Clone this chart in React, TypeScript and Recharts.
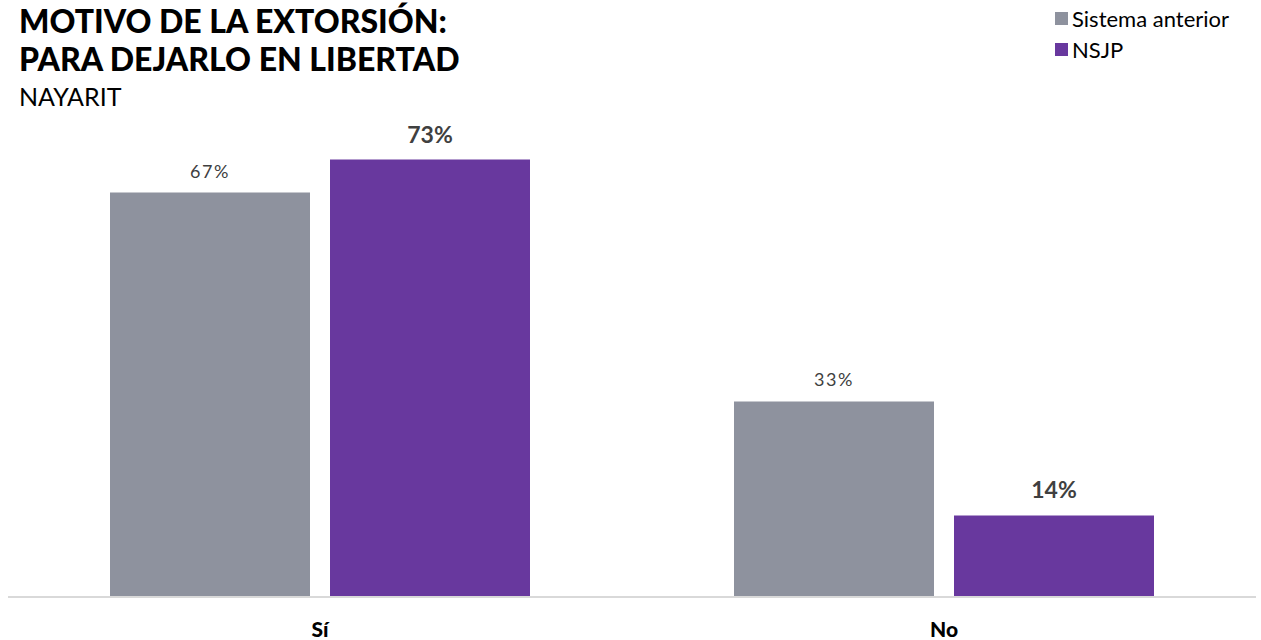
import { BarChart, Bar, XAxis, YAxis, LabelList } from 'recharts';

const categories = ['Sí', 'No'];
const sistemaAnterior = [67.4, 32.6];
const nsjp = [72.9, 13.6];

const GRAY = '#8E929E';
const PURPLE = '#68389E';
const FONT = 'Lato, "Open Sans", sans-serif';

const data = categories.map((c, i) => ({
  name: c,
  anterior: sistemaAnterior[i],
  nsjp: nsjp[i],
}));

const pct = (v: any) => `${Math.round(Number(v))}%`;

export default function App() {
  return (
    <div style={{ position: 'absolute', left: 0, top: 0, width: 1261, height: 640, background: '#fff', fontFamily: FONT }}>
      <div style={{ position: 'absolute', left: 19, top: 2, color: '#000', lineHeight: '38px' }}>
        <div style={{ fontSize: 32, fontWeight: 900 }}>MOTIVO DE LA EXTORSIÓN:</div>
        <div style={{ fontSize: 32, fontWeight: 900 }}>PARA DEJARLO EN LIBERTAD</div>
        <div style={{ fontSize: 25, lineHeight: '30px', marginTop: 3 }}>NAYARIT</div>
      </div>
      <div style={{ position: 'absolute', left: 1055, top: 3, fontSize: 22, color: '#000', lineHeight: '31px' }}>
        {[['Sistema anterior', GRAY], ['NSJP', PURPLE]].map(([label, color]) => (
          <div key={label} style={{ display: 'flex', alignItems: 'center' }}>
            <span style={{ display: 'inline-block', width: 13, height: 13, background: color, marginRight: 4 }} />
            {label}
          </div>
        ))}
      </div>
      <div style={{ position: 'absolute', left: 0, top: 0 }}>
        <BarChart
          width={1261}
          height={640}
          data={data}
          margin={{ top: 117, right: 5, bottom: 0, left: 8 }}
          barSize={200}
          barGap={20}
        >
          <XAxis
            dataKey="name"
            height={43}
            axisLine={{ stroke: '#D9D9D9', strokeWidth: 2 }}
            tickLine={false}
            tickMargin={19}
            tick={{ fill: '#000', fontSize: 21, fontWeight: 900, fontFamily: FONT }}
          />
          <YAxis hide domain={[0, 80]} />
          <Bar dataKey="anterior" fill={GRAY} isAnimationActive={false}>
            <LabelList
              dataKey="anterior"
              position="top"
              offset={15}
              formatter={pct}
              style={{ fill: '#404040', fontSize: 18, fontFamily: FONT, letterSpacing: 1.5 }}
            />
          </Bar>
          <Bar dataKey="nsjp" fill={PURPLE} isAnimationActive={false}>
            <LabelList
              dataKey="nsjp"
              position="top"
              offset={17}
              formatter={pct}
              style={{ fill: '#404040', fontSize: 23, fontWeight: 700, fontFamily: FONT }}
            />
          </Bar>
        </BarChart>
      </div>
    </div>
  );
}
